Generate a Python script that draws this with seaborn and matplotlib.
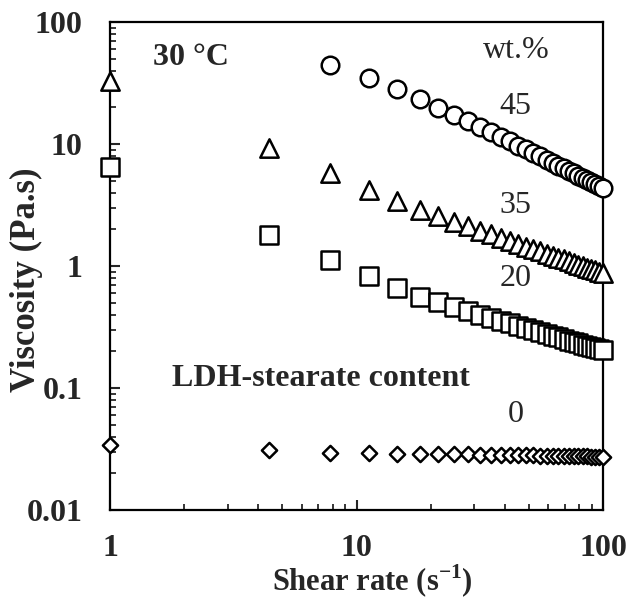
import matplotlib
matplotlib.use("Agg")
import matplotlib.pyplot as plt
import seaborn as sns
import pandas as pd

# shear rate (1/s)
shear_rate = [1.00, 4.41, 7.83, 11.24, 14.66, 18.07, 21.48, 24.90, 28.31, 31.72,
              35.14, 38.55, 41.97, 45.38, 48.79, 52.21, 55.62, 59.03, 62.45, 65.86,
              69.28, 72.69, 76.10, 79.52, 82.93, 86.34, 89.76, 93.17, 96.59, 100.0]

# viscosity (Pa.s) per LDH-stearate content, None where no point is shown
visc_45 = [None, None, 44.5, 34.7, 28.0, 23.2, 19.9, 17.4, 15.4, 13.9,
           12.6, 11.47, 10.52, 9.72, 9.03, 8.43, 7.91, 7.44, 7.03, 6.66,
           6.33, 6.03, 5.75, 5.50, 5.27, 5.06, 4.86, 4.68, 4.52, 4.36]
visc_35 = [33.0, 9.3, 5.8, 4.2, 3.4, 2.88, 2.555, 2.305, 2.108, 1.948,
           1.814, 1.701, 1.604, 1.519, 1.444, 1.377, 1.318, 1.265, 1.216, 1.172,
           1.132, 1.095, 1.060, 1.028, 0.999, 0.971, 0.945, 0.921, 0.899, 0.877]
visc_20 = [6.5, 1.8, 1.12, 0.83, 0.66, 0.557, 0.503, 0.461, 0.427, 0.400,
           0.376, 0.356, 0.339, 0.324, 0.310, 0.298, 0.287, 0.277, 0.268, 0.260,
           0.252, 0.245, 0.238, 0.232, 0.227, 0.221, 0.216, 0.212, 0.207, 0.203]
visc_0 = [0.0340, 0.0310, 0.0295, 0.0292, 0.0290, 0.0289, 0.0288, 0.0287, 0.0286, 0.0285,
          0.0284, 0.0283, 0.0282, 0.0281, 0.0280, 0.0280, 0.0279, 0.0279, 0.0278, 0.0278,
          0.0277, 0.0277, 0.0276, 0.0276, 0.0275, 0.0275, 0.0274, 0.0274, 0.0273, 0.0272]

series = [("45", visc_45, "o", 160), ("35", visc_35, "^", 175),
          ("20", visc_20, "s", 150), ("0", visc_0, "D", 60)]

y_ticks = [0.01, 0.1, 1, 10, 100]
y_tick_labels = ["0.01", "0.1", "1", "10", "100"]
x_ticks = [1, 10, 100]
x_tick_labels = ["1", "10", "100"]

sns.set_style("ticks")
plt.rcParams['font.family'] = ['Liberation Serif', 'DejaVu Serif']
plt.rcParams['mathtext.fontset'] = 'custom'
plt.rcParams['mathtext.bf'] = 'Liberation Serif:bold'
plt.rcParams['mathtext.rm'] = 'Liberation Serif'

fig = plt.figure(figsize=(6.29, 6.0), dpi=100)
ax = fig.add_axes([0.175, 0.15, 0.7837, 0.8133])

for label, visc, marker, size in series:
    df = pd.DataFrame({"shear": shear_rate, "visc": visc}).dropna()
    sns.scatterplot(data=df, x="shear", y="visc", marker=marker, s=size,
                    facecolor="white", edgecolor="black", linewidth=1.8,
                    clip_on=False, zorder=3, ax=ax)

ax.set_xscale("log")
ax.set_yscale("log")
ax.set_xlim(1, 100)
ax.set_ylim(0.01, 100)
ax.set_xticks(x_ticks, x_tick_labels)
ax.set_yticks(y_ticks, y_tick_labels)

for s in ax.spines.values():
    s.set_linewidth(1.6)
    s.set_color("black")

ax.tick_params(which="major", direction="in", length=7, width=1.5,
               labelsize=23, top=False, right=False)
ax.tick_params(axis="y", which="major", pad=20)
ax.tick_params(axis="x", which="major", pad=17)
ax.tick_params(which="minor", direction="in", length=4.5, width=1.3,
               top=False, right=False)
for lab in ax.get_xticklabels() + ax.get_yticklabels():
    lab.set_fontweight("bold")

ax.set_xlabel("Shear rate (s$^{\\mathbf{-1}}$)", fontsize=22, fontweight="bold")
ax.set_ylabel("Viscosity (Pa.s)", fontsize=25, fontweight="bold")
ax.xaxis.set_label_coords(0.532, -0.108)
ax.yaxis.set_label_coords(-0.136, 0.471)

ax.text(0.087, 0.928, "30 °C", transform=ax.transAxes, fontsize=23,
        fontweight="bold", ha="left", va="center")
ax.text(0.757, 0.941, "wt.%", transform=ax.transAxes, fontsize=23,
        ha="left", va="center")
for txt, yy in [("45", 0.826), ("35", 0.625), ("20", 0.475), ("0", 0.195)]:
    ax.text(0.823, yy, txt, transform=ax.transAxes, fontsize=23,
            ha="center", va="center")
ax.text(0.126, 0.270, "LDH-stearate content", transform=ax.transAxes,
        fontsize=23, fontweight="bold", ha="left", va="center")

fig.savefig("out.png", dpi=100)
